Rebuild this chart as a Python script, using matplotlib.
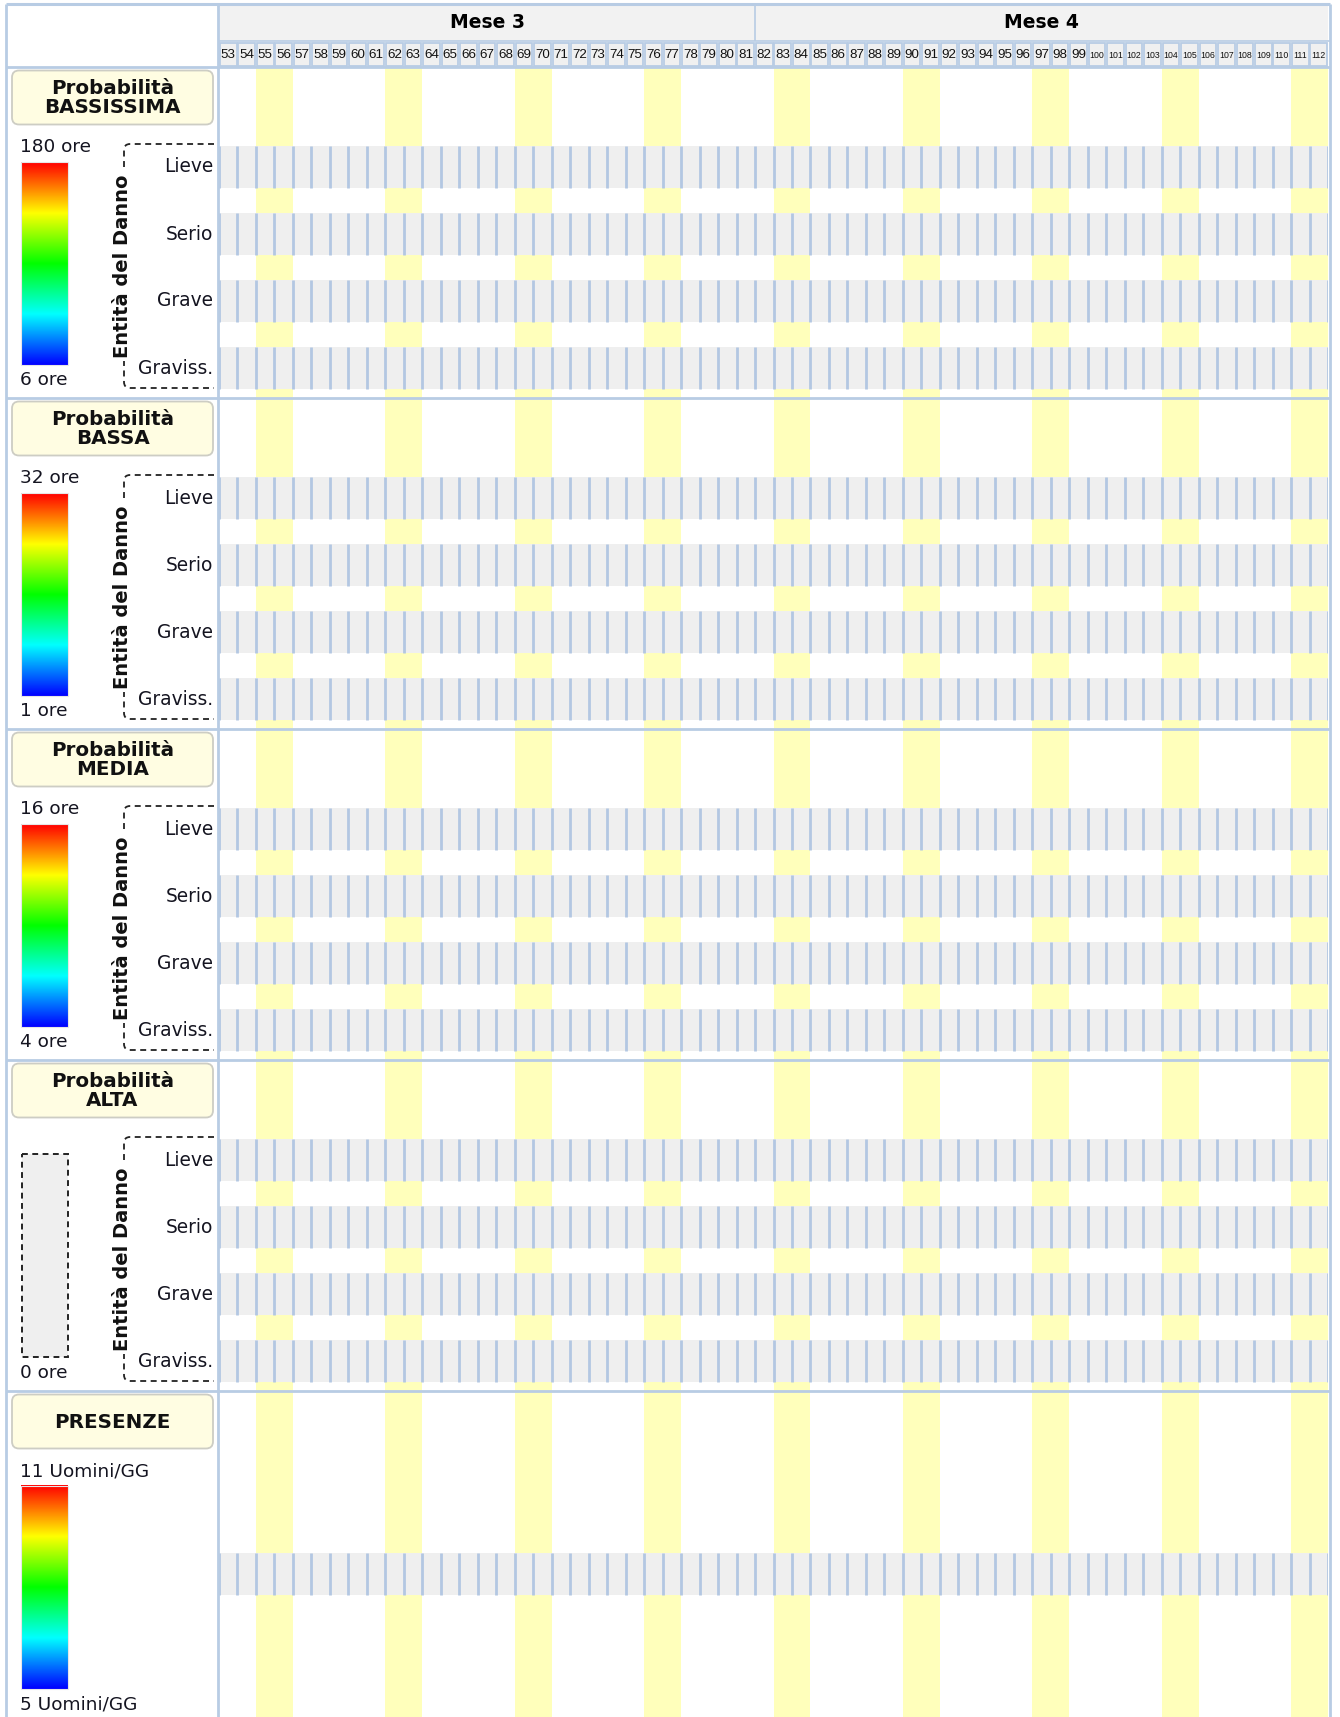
import numpy as np
import matplotlib
matplotlib.use("Agg")
import matplotlib.pyplot as plt
from matplotlib.patches import Rectangle, FancyBboxPatch, PathPatch
from matplotlib.path import Path
from matplotlib.colors import LinearSegmentedColormap

plt.rcParams['font.family'] = ['DejaVu Sans']

# ---------------- data ----------------
days = list(range(53, 113))
month_names = ["Mese 3", "Mese 4"]
month_first_day = [53, 82]
month_last_day = [81, 112]
weekend_days = [55, 56, 62, 63, 69, 70, 76, 77, 83, 84, 90, 91, 97, 98, 104, 105, 111, 112]
section_titles = ["Probabilità\nBASSISSIMA", "Probabilità\nBASSA", "Probabilità\nMEDIA",
                  "Probabilità\nALTA", "PRESENZE"]
scale_max_labels = ["180 ore", "32 ore", "16 ore", "", "11 Uomini/GG"]
scale_min_labels = ["6 ore", "1 ore", "4 ore", "0 ore", "5 Uomini/GG"]
section_has_gradient = [True, True, True, False, True]
section_has_severity = [True, True, True, True, False]
severity_levels = ["Lieve", "Serio", "Grave", "Graviss."]
axis_title = "Entità del Danno"

# ---------------- style / layout (pixels) ----------------
BORDER = '#b8cce4'
YELLOW = '#ffffbb'
ROWGRAY = '#efefef'
TICK = '#b3c7e2'
TEXT = '#141420'

W, H = 1340, 1717
LEFT = 6
SPLIT = 217.5
X0, X1 = 219, 1328
RIGHT = 1329.5
HEADER_TOP = 4
MONTH_BOTTOM = 41
HEADER_BOTTOM = 67
SEC_H = 331
ROW_TOPS = [79, 146, 213, 280]
PRES_ROW_TOP = 162
ROW_H = 42

fig = plt.figure(figsize=(W / 100, H / 100), dpi=100)


def add_px_axes(x, y, w, h):
    ax = fig.add_axes([x / W, 1 - (y + h) / H, w / W, h / H])
    ax.set_axis_off()
    return ax


# background / left panel (pixel coordinates)
bg = add_px_axes(0, 0, W, H)
bg.set_autoscale_on(False)
bg.set_xlim(0, W)
bg.set_ylim(H, 0)

cmap = LinearSegmentedColormap.from_list(
    'hue', ['#0000ff', '#00ffff', '#00ff00', '#ffff00', '#ff0000'])
gradient = np.linspace(0, 1, 256).reshape(-1, 1)

# ---------------- header ----------------
hx = add_px_axes(X0, HEADER_TOP, X1 - X0, HEADER_BOTTOM - HEADER_TOP)
hx.set_xlim(days[0] - 0.5, days[-1] + 0.5)
hx.set_ylim(HEADER_BOTTOM - HEADER_TOP, 0)
for name, a, b in zip(month_names, month_first_day, month_last_day):
    hx.add_patch(Rectangle((a - 0.5, 1), b - a + 1, 36, fc='#f2f2f2', ec='none', zorder=1))
    hx.text((a + b) / 2, 19, name, ha='center', va='center', fontsize=13.5,
            fontweight='bold', color='#000000', zorder=3)
hx.vlines([d - 0.5 for d in month_first_day[1:]], 0, 37, colors=BORDER, lw=1.2, zorder=2)
for d in days:
    hx.add_patch(Rectangle((d - 0.5 + 0.05, 39.5), 0.9, 22.5, fc='#f0f0f0', ec=BORDER,
                           lw=1.3, zorder=1))
    hx.text(d, 51, str(d), ha='center', va='center',
            fontsize=9.6 if d < 100 else 6.3, family='Liberation Sans',
            color='#111111', zorder=3)

# ---------------- sections ----------------
bounds = np.arange(days[0] - 0.5, days[-1] + 1.0, 1.0)
for k, title in enumerate(section_titles):
    top = HEADER_BOTTOM + SEC_H * k
    h = min(SEC_H, H - top)
    ax = add_px_axes(X0, top, X1 - X0, h)
    ax.set_xlim(days[0] - 0.5, days[-1] + 0.5)
    ax.set_ylim(h, 0)
    ax.bar(weekend_days, h, width=1.0, bottom=0, color=YELLOW, zorder=1, linewidth=0)
    row_tops = ROW_TOPS if section_has_severity[k] else [PRES_ROW_TOP]
    ax.barh([t + ROW_H / 2 for t in row_tops], len(days), left=days[0] - 0.5,
            height=ROW_H, color=ROWGRAY, zorder=2, linewidth=0)
    for t in row_tops:
        ax.vlines(bounds, t, t + ROW_H, colors=TICK, lw=2.0, zorder=3)

    # left panel: title box
    bg.add_patch(FancyBboxPatch((12, top + 3.5), 201, 54,
                                boxstyle="round,pad=0,rounding_size=7",
                                fc='#fffde2', ec='#cdcdc4', lw=1.3, zorder=2))
    bg.text(112.5, top + 31, title, ha='center', va='center', fontsize=14.3,
            fontweight='bold', color='#111111', linespacing=0.98, zorder=3)

    # colour scale
    if section_has_gradient[k]:
        bg.imshow(gradient, cmap=cmap, origin='lower', aspect='auto',
                  extent=(21, 68, top + 298, top + 95), zorder=2, interpolation='bilinear')
        bg.add_patch(Rectangle((21, top + 95), 47, 203, fc='none', ec='#e6e6e6', lw=0.8, zorder=3))
    else:
        bg.add_patch(Rectangle((21.5, top + 94), 46.5, 203, fc='#efefef', ec='#222222',
                               ls=(0, (3, 2.3)), lw=1.4, zorder=2))
    if scale_max_labels[k]:
        bg.text(20, top + 80, scale_max_labels[k], ha='left', va='center',
                fontsize=13.3, color=TEXT, zorder=3)
    bg.text(20, top + 313, scale_min_labels[k], ha='left', va='center',
            fontsize=13.3, color=TEXT, zorder=3)

    # severity bracket
    if section_has_severity[k]:
        y0, y1 = top + 77, top + 321
        verts = [(214, y0), (130, y0), (124, y0), (124, y0 + 6), (124, y1 - 6),
                 (124, y1), (130, y1), (214, y1)]
        codes = [Path.MOVETO, Path.LINETO, Path.CURVE3, Path.CURVE3, Path.LINETO,
                 Path.CURVE3, Path.CURVE3, Path.LINETO]
        bg.add_patch(PathPatch(Path(verts, codes), fill=False, ec='#222222', lw=1.3,
                               ls=(0, (3.3, 2.5)), zorder=2))
        bg.text(123, (y0 + y1) / 2, axis_title, rotation=90, ha='center', va='center',
                fontsize=14, fontweight='bold', color='#111111', zorder=3,
                bbox=dict(fc='white', ec='none', pad=2.5))
        for lab, t in zip(severity_levels, ROW_TOPS):
            bg.text(213, top + t + ROW_H / 2, lab, ha='right', va='center',
                    fontsize=13.4, color=TEXT, zorder=3)

# ---------------- borders overlay ----------------
ov = add_px_axes(0, 0, W, H)
ov.set_xlim(0, W)
ov.set_ylim(H, 0)
ov.set_zorder(10)
ov.vlines([LEFT, SPLIT, RIGHT], HEADER_TOP, H, colors=BORDER, lw=2.0)
ov.hlines([HEADER_TOP], LEFT, RIGHT, colors=BORDER, lw=2.2)
ov.hlines([MONTH_BOTTOM], SPLIT, RIGHT, colors=BORDER, lw=1.2)
ov.hlines([HEADER_BOTTOM + SEC_H * k for k in range(len(section_titles))], LEFT, RIGHT,
          colors=BORDER, lw=2.0)

fig.savefig("out.png", dpi=100, facecolor='white')
